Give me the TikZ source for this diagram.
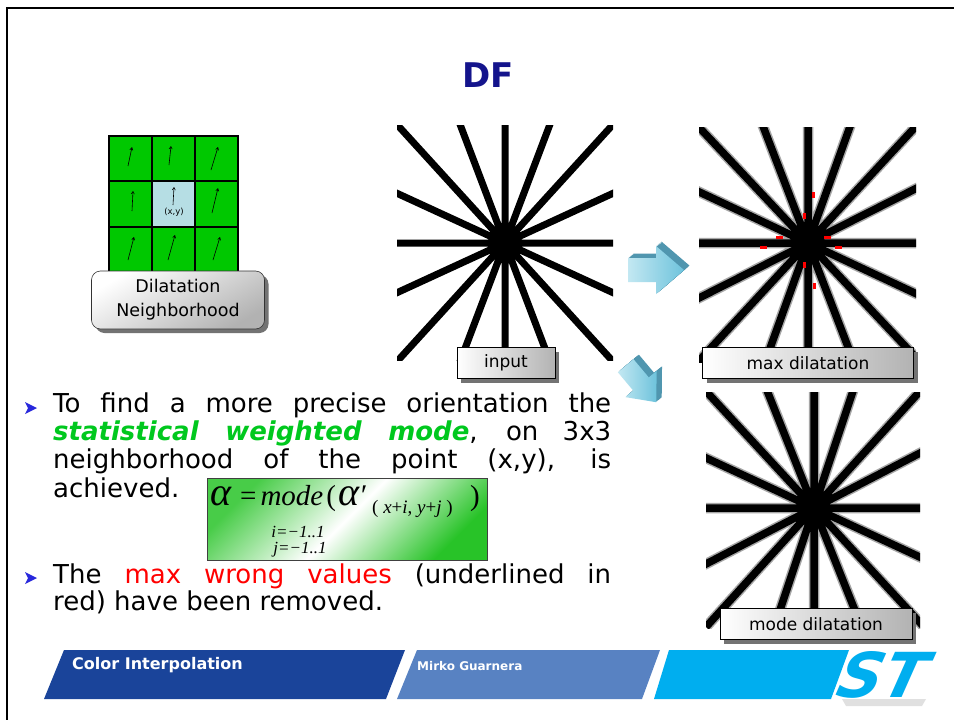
\documentclass[tikz,border=0pt]{standalone}
\usepackage{fontspec}
\setmainfont{DejaVu Sans}
\newfontfamily\eqfont{Liberation Serif}
\usetikzlibrary{arrows.meta,shadows}

\definecolor{titlenavy}{RGB}{20,20,140}
\definecolor{cellgreen}{RGB}{0,200,0}
\definecolor{cellcyan}{RGB}{182,222,228}
\definecolor{modegreen}{RGB}{0,200,30}
\definecolor{eqgreen}{RGB}{40,195,40}
\definecolor{bandA}{RGB}{26,68,154}
\definecolor{bandB}{RGB}{88,130,194}
\definecolor{bandC}{RGB}{0,174,239}
\definecolor{arrowlight}{RGB}{195,232,242}
\definecolor{arrowmid}{RGB}{110,195,220}
\definecolor{arrowdark}{RGB}{80,150,175}
\definecolor{bulletblue}{RGB}{40,40,220}

\tikzset{
  gridline/.style={line width=1.3},
  cellarrow/.style={line width=0.6,-{Straight Barb[length=2.5pt,width=3pt]}},
  spoke/.style={line width=7},
  softspoke/.style={line width=7.5,preaction={draw=black!35,line width=10.5}},
  imgtag/.style={draw=black,line width=0.6,left color=white,right color=black!30,
    inner sep=0,minimum height=31,font=\fontsize{17}{20}\selectfont,
    drop shadow={shadow xshift=4pt,shadow yshift=-4pt,fill=black!55,opacity=1}},
  nbhdbox/.style={draw=black!80,line width=0.6,rounded corners=9,top color=white,
    bottom color=black!30,shading angle=30,align=center,inner sep=0,
    minimum width=173,minimum height=58,font=\fontsize{17.5}{24}\selectfont,
    drop shadow={shadow xshift=4pt,shadow yshift=-4pt,fill=black!55,opacity=1}},
  bodyline/.style={anchor=base west,inner sep=0,font=\fontsize{26}{28}\selectfont},
  eqtext/.style={anchor=base west,inner sep=0},
  foottext/.style={anchor=base west,inner sep=0,text=white},
}

\begin{document}
\begin{tikzpicture}[x=1pt,y=-1pt]
  \useasboundingbox (0,0) rectangle (954,720);
  \fill[white] (0,0) rectangle (954,720);
  \draw[line width=2.5] (7,720) -- (7,8) -- (954,8);

  \node[font=\bfseries\fontsize{34}{34}\selectfont,text=titlenavy] (title) at (488,75) {DF};

  % 3x3 neighbourhood
  \fill[cellgreen] (109,136) rectangle (238,272);
  \fill[cellcyan] (152,181) rectangle (195,227);
  \draw[gridline] (109,136) rectangle (238,272);
  \draw[gridline] (152,136) -- (152,272);
  \draw[gridline] (195,136) -- (195,272);
  \draw[gridline] (109,181) -- (238,181);
  \draw[gridline] (109,227) -- (238,227);
  \draw[cellarrow] (128,166) -- (132,147);
  \draw[cellarrow] (169,165) -- (171,146);
  \draw[cellarrow] (211,170) -- (218,147);
  \draw[cellarrow] (132,211) -- (133,191);
  \draw[cellarrow] (173,205) -- (174,187);
  \draw[cellarrow] (212,213) -- (218,188);
  \draw[cellarrow] (128,260) -- (134,237);
  \draw[cellarrow] (168,260) -- (175,235);
  \draw[cellarrow] (213,260) -- (220,237);
  \node[font=\fontsize{8.5}{9}\selectfont] (xy) at (174,212) {(x,y)};
  \node[nbhdbox] (nbhd) at (178,300) {Dilatation\\Neighborhood};

  % input star
  \begin{scope}
    \clip (397,125) rectangle (613,360);
    \draw[spoke] (505,243) ++(0,-122) -- ++(0,244)
      (505,243) ++(-112,0) -- ++(224,0)
      (505,243) ++(-113,-124) -- ++(226,248)
      (505,243) ++(113,-124) -- ++(-226,248)
      (505,243) ++(-47,-124) -- ++(94,248)
      (505,243) ++(47,-124) -- ++(-94,248)
      (505,243) ++(-113,-52) -- ++(226,104)
      (505,243) ++(113,-52) -- ++(-226,104);
    \fill (505,243) circle (9);
  \end{scope}

  % max dilatation
  \begin{scope}
    \clip (699,127) rectangle (916,362);
    \draw[softspoke] (808,243) ++(0,-122) -- ++(0,244)
      (808,243) ++(-112,0) -- ++(224,0)
      (808,243) ++(-113,-120) -- ++(226,240)
      (808,243) ++(111,-120) -- ++(-222,240)
      (808,243) ++(-47,-122) -- ++(94,244)
      (808,243) ++(44,-122) -- ++(-88,244)
      (808,243) ++(-113,-53) -- ++(226,106)
      (808,243) ++(113,-57) -- ++(-226,114);
    \fill (808,243) circle (12);
  \end{scope}
  \fill[red] (812,192) rectangle (815,198);
  \fill[red] (803,213) rectangle (806,219);
  \fill[red] (803,262) rectangle (806,268);
  \fill[red] (813,283) rectangle (816,289);
  \fill[red] (776,236) rectangle (783,239);
  \fill[red] (760,246) rectangle (767,249);
  \fill[red] (824,236) rectangle (831,239);
  \fill[red] (835,246) rectangle (842,249);

  % mode dilatation
  \begin{scope}
    \clip (706,392) rectangle (920,628);
    \draw[softspoke] (814,508) ++(0,-120) -- ++(0,240)
      (814,508) ++(-110,0) -- ++(220,0)
      (814,508) ++(-110,-119) -- ++(220,238)
      (814,508) ++(108,-119) -- ++(-216,238)
      (814,508) ++(-48,-120) -- ++(96,240)
      (814,508) ++(40,-120) -- ++(-80,240)
      (814,508) ++(-110,-51) -- ++(220,102)
      (814,508) ++(110,-57) -- ++(-220,114);
    \fill (814,508) circle (11);
  \end{scope}

  \node[imgtag,minimum width=98] (tagin) at (506,363) {input};
  \node[imgtag,minimum width=211] (tagmax) at (808,363) {max dilatation};
  \node[imgtag,minimum width=192] (tagmode) at (816,624) {mode dilatation};

  % blue 3d arrows
  \foreach \k in {6,...,1}
    \fill[arrowdark,shift={(656+0.9*\k,270-0.75*\k)}] (-28,-12) -- (0,-12) -- (0,-24) -- (28,0) -- (0,24) -- (0,12) -- (-28,12) -- cycle;
  \shade[left color=arrowlight,right color=arrowmid,shift={(656,270)}] (-28,-12) -- (0,-12) -- (0,-24) -- (28,0) -- (0,24) -- (0,12) -- (-28,12) -- cycle;
  \foreach \k in {6,...,1}
    \fill[arrowdark,shift={(641+0.9*\k,384-0.75*\k)},rotate=-50,scale=0.85] (-28,-12) -- (0,-12) -- (0,-24) -- (28,0) -- (0,24) -- (0,12) -- (-28,12) -- cycle;
  \shade[left color=arrowlight,right color=arrowmid,shift={(641,384)},rotate=-50,scale=0.85] (-28,-12) -- (0,-12) -- (0,-24) -- (28,0) -- (0,24) -- (0,12) -- (-28,12) -- cycle;

  % bullets and text
  \fill[bulletblue] (25,402) -- (37,408) -- (25,414) -- (28,408) -- cycle;
  \fill[bulletblue] (25,572) -- (37,578) -- (25,584) -- (28,578) -- cycle;
  \node[bodyline] (l1) at (53,412) {\makebox[558pt][s]{To find a more precise orientation the}};
  \node[bodyline] (l2) at (53,440) {\makebox[558pt][s]{\textcolor{modegreen}{\bfseries\itshape statistical weighted mode}, on 3x3}};
  \node[bodyline] (l3) at (53,468) {\makebox[558pt][s]{neighborhood of the point (x,y), is}};
  \node[bodyline] (l4) at (53,497) {achieved.};
  \node[bodyline] (l5) at (53,583) {\makebox[558pt][s]{The \textcolor{red}{max wrong values} (underlined in}};
  \node[bodyline] (l6) at (53,610) {red) have been removed.};

  % formula
  \node[draw=black!75,line width=0.8,minimum width=280,minimum height=82,inner sep=0,
    top color=eqgreen!85!white,bottom color=eqgreen,middle color=white,shading angle=45] (eqbox) at (347,519) {};
  \node[eqtext,font=\eqfont\itshape\fontsize{40}{40}\selectfont] (alpha) at (210,505) {α};
  \node[eqtext,font=\eqfont\fontsize{29}{29}\selectfont] (mode) at (240,505) {=\kern4pt{\itshape mode}\kern3pt(};
  \node[eqtext,font=\eqfont\itshape\fontsize{40}{40}\selectfont] (alphap) at (338,505) {α\fontsize{30}{30}\selectfont′};
  \node[eqtext,font=\eqfont\fontsize{19}{19}\selectfont] (sub) at (372,513) {( {\itshape x}+{\itshape i}, {\itshape y}+{\itshape j} )};
  \node[eqtext,font=\eqfont\fontsize{29}{29}\selectfont] (close) at (470,505) {)};
  \node[eqtext,anchor=base,font=\eqfont\itshape\fontsize{17}{17}\selectfont] (ilim) at (298,537) {i=−1..1};
  \node[eqtext,anchor=base,font=\eqfont\itshape\fontsize{17}{17}\selectfont] (jlim) at (300,553) {j=−1..1};

  % footer
  \fill[bandA] (64,650) -- (405,650) -- (386,699) -- (44,699) -- cycle;
  \fill[bandB] (417,650) -- (660,650) -- (642,699) -- (397,699) -- cycle;
  \fill[bandC] (669,650) -- (849,650) -- (831,699) -- (654,699) -- cycle;
  \fill[black!12] (842,699) -- (926,699) -- (922,706) -- (846,706) -- cycle;
  \node[foottext,font=\bfseries\fontsize{16}{16}\selectfont] (course) at (72,669) {Color Interpolation};
  \node[foottext,font=\bfseries\fontsize{12}{12}\selectfont] (author) at (417,670) {Mirko Guarnera};
  \node[text=bandC,font=\bfseries\itshape\fontsize{62}{62}\selectfont,xslant=0.25,inner sep=0] (stlogo) at (884,675) {ST};
\end{tikzpicture}
\end{document}
